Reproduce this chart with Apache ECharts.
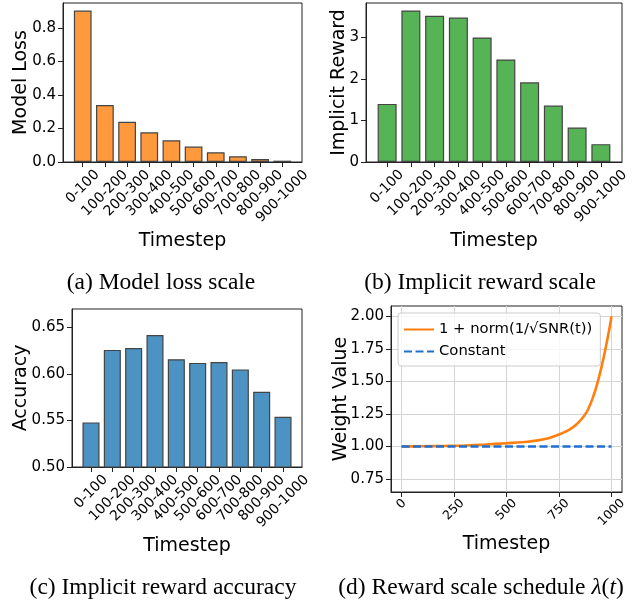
<!DOCTYPE html>
<html>
<head>
<meta charset="utf-8">
<script src="https://cdn.jsdelivr.net/npm/echarts@6/dist/echarts.min.js"></script>
<style>
  html, body { margin: 0; padding: 0; background: #fff; }
  #chart { width: 641px; height: 607px; }
</style>
</head>
<body>
<div id="chart"></div>
<script type="text/javascript">
    // data
    var timesteps = ['0-100', '100-200', '200-300', '300-400', '400-500', '500-600', '600-700', '700-800', '800-900', '900-1000'];
    var modelLoss = [0.905, 0.340, 0.240, 0.178, 0.130, 0.092, 0.058, 0.034, 0.018, 0.008];
    var implicitReward = [1.40, 3.65, 3.52, 3.48, 3.00, 2.47, 1.92, 1.36, 0.83, 0.43];
    var rewardAcc = [0.548, 0.626, 0.628, 0.642, 0.616, 0.612, 0.613, 0.605, 0.581, 0.554];
    var schedT = [0, 100, 200, 300, 400, 500, 600, 650, 700, 750, 800, 830, 860, 880, 890, 910, 930, 950, 970, 990, 1000];
    var schedV = [1.000, 1.002, 1.004, 1.008, 1.015, 1.025, 1.036, 1.047, 1.064, 1.092, 1.13, 1.165, 1.215, 1.26, 1.29, 1.37, 1.47, 1.595, 1.74, 1.905, 2.00];
    var constT = [0, 1000];
    var constV = [1, 1];

    // tick labels
    var lossTicks = [0, 0.2, 0.4, 0.6, 0.8];
    var rewardTicks = [0, 1, 2, 3];
    var accTicks = [0.50, 0.55, 0.60, 0.65];
    var weightTicks = [0.75, 1.00, 1.25, 1.50, 1.75, 2.00];
    var stepTicks = [0, 250, 500, 750, 1000];

    var FONT = 'DejaVu Sans';
    var INK = '#000';
    var FRAME = '#222';
    var GRIDLINE = '#d4d4d4';

    var catIdx = timesteps.map(function (s, i) { return i; });
    var ctx = document.createElement('canvas').getContext('2d');

    var nameStyle = { fontFamily: FONT, fontSize: 19, color: INK };

    // 45deg tick labels centred under their tick, the way matplotlib puts them
    function slantLabels(gi, xs, texts, yBase, size, gap) {
        ctx.font = size + 'px "' + FONT + '"';
        var widths = texts.map(function (s) { return ctx.measureText(String(s)).width; });
        return {
            type: 'custom', xAxisIndex: gi, yAxisIndex: gi, silent: true, clip: false, z: 5,
            data: xs.map(function (x) { return [x, yBase]; }),
            renderItem: function (params, api) {
                var i = params.dataIndex;
                var pt = api.coord([api.value(0), api.value(1)]);
                return {
                    type: 'text', x: pt[0], y: pt[1] + gap + 0.3536 * widths[i], rotation: Math.PI / 4,
                    style: { text: String(texts[i]), fontSize: size, fontFamily: FONT, fill: INK, align: 'center', verticalAlign: 'middle' }
                };
            }
        };
    }

    function barX(gi) {
        return {
            type: 'value', gridIndex: gi, min: -0.89, max: 9.89,
            name: 'Timestep', nameLocation: 'middle', nameGap: 70, nameMoveOverlap: false, nameTextStyle: nameStyle,
            axisLine: { show: true, onZero: false, lineStyle: { color: FRAME, width: 1 } },
            splitLine: { show: false },
            axisTick: { show: true, customValues: catIdx, length: 5, lineStyle: { color: FRAME } },
            axisLabel: { show: false }
        };
    }

    function valY(gi, min, max, ticks, digits, name, gap) {
        return {
            type: 'value', gridIndex: gi, min: min, max: max,
            name: name, nameLocation: 'middle', nameGap: gap, nameMoveOverlap: false, nameTextStyle: nameStyle,
            axisLine: { show: true, onZero: false, lineStyle: { color: FRAME, width: 1 } },
            splitLine: { show: false },
            axisTick: { show: true, customValues: ticks, length: 5, lineStyle: { color: FRAME } },
            axisLabel: {
                customValues: ticks, margin: 7, fontFamily: FONT, fontSize: 15, color: INK,
                formatter: function (v) { return v.toFixed(digits); }
            }
        };
    }

    function barSeries(gi, vals, color) {
        return {
            type: 'bar', xAxisIndex: gi, yAxisIndex: gi, barWidth: '80%',
            data: vals.map(function (v, i) { return [i, v]; }),
            itemStyle: { color: color, borderColor: '#444', borderWidth: 1.2 },
            silent: true
        };
    }

    function pairs(xs, ys) {
        return xs.map(function (x, i) { return [x, ys[i]]; });
    }

    var capStyle = { fontFamily: 'Liberation Serif', fontSize: 23.5, fontWeight: 'normal', color: INK };
    function caption(text, x, y, rich) {
        var ts = Object.assign({}, capStyle);
        if (rich) ts.rich = rich;
        return { text: text, left: x, top: y, textAlign: 'center', textVerticalAlign: 'middle', padding: 0, textStyle: ts };
    }

    var dom = document.getElementById('chart');
    var myChart = echarts.init(dom, null, { renderer: 'canvas' });

    var frame = { show: true, borderColor: FRAME, borderWidth: 1, backgroundColor: 'transparent' };

    var option = {
        animation: false,
        backgroundColor: '#fff',
        title: [
            caption('(a) Model loss scale', 161, 283),
            caption('(b) Implicit reward scale', 480, 283),
            caption('(c) Implicit reward accuracy', 163, 588),
            caption('(d) Reward scale schedule {it|λ}({it|t})', 481, 588, {
                it: { fontFamily: 'Liberation Serif', fontSize: 23.5, fontStyle: 'italic', color: INK }
            })
        ],
        grid: [
            Object.assign({ left: 63, top: 3, width: 239, height: 159 }, frame),
            Object.assign({ left: 366, top: 3, width: 256, height: 159 }, frame),
            Object.assign({ left: 72, top: 309, width: 230, height: 158 }, frame),
            Object.assign({ left: 391, top: 306, width: 231, height: 186 }, frame)
        ],
        legend: {
            data: ['1 + norm(1/√SNR(t))', 'Constant'],
            orient: 'vertical', left: 398, top: 313,
            backgroundColor: 'rgba(255,255,255,0.8)', borderColor: '#ccc', borderWidth: 1, borderRadius: 3,
            padding: [9, 8, 7, 5], itemWidth: 30, itemHeight: 14, itemGap: 7,
            itemStyle: { opacity: 0 },
            textStyle: { fontFamily: FONT, fontSize: 14.8, color: INK }
        },
        xAxis: [
            barX(0),
            barX(1),
            barX(2),
            {
                type: 'value', gridIndex: 3, min: -50, max: 1050,
                name: 'Timestep', nameLocation: 'middle', nameGap: 43, nameMoveOverlap: false, nameTextStyle: nameStyle,
                axisLine: { show: true, onZero: false, lineStyle: { color: FRAME, width: 1 } },
                splitLine: { show: true, lineStyle: { color: GRIDLINE, width: 1 } },
                axisTick: { show: true, customValues: stepTicks, length: 5, lineStyle: { color: FRAME } },
                axisLabel: { show: false }
            }
        ],
        yAxis: [
            valY(0, 0, 0.95, lossTicks, 1, 'Model Loss', 32),
            valY(1, 0, 3.83, rewardTicks, 0, 'Implicit Reward', 17),
            valY(2, 0.5, 0.67, accTicks, 2, 'Accuracy', 41),
            (function () {
                var y = valY(3, 0.65, 2.08, weightTicks, 2, 'Weight Value', 40);
                y.splitLine = { show: true, lineStyle: { color: GRIDLINE, width: 1 } };
                return y;
            })()
        ],
        series: [
            barSeries(0, modelLoss, '#ff993e'),
            barSeries(1, implicitReward, '#56b356'),
            barSeries(2, rewardAcc, '#4c92c3'),
            slantLabels(0, catIdx, timesteps, 0, 14, 10.5),
            slantLabels(1, catIdx, timesteps, 0, 14, 10.5),
            slantLabels(2, catIdx, timesteps, 0.5, 14, 10.5),
            slantLabels(3, stepTicks, stepTicks, 0.65, 12.5, 9.3),
            {
                name: '1 + norm(1/√SNR(t))', type: 'line', xAxisIndex: 3, yAxisIndex: 3,
                data: pairs(schedT, schedV), smooth: 0.3, symbol: 'none', showSymbol: false,
                lineStyle: { color: '#ff7f0e', width: 2.6 }, itemStyle: { color: '#ff7f0e' }
            },
            {
                name: 'Constant', type: 'line', xAxisIndex: 3, yAxisIndex: 3,
                data: pairs(constT, constV), symbol: 'none', showSymbol: false,
                lineStyle: { color: '#1f6fd0', width: 2.6, type: [8, 3.5] }, itemStyle: { color: '#1f6fd0' }
            }
        ]
    };

    myChart.setOption(option);
</script>
</body>
</html>
